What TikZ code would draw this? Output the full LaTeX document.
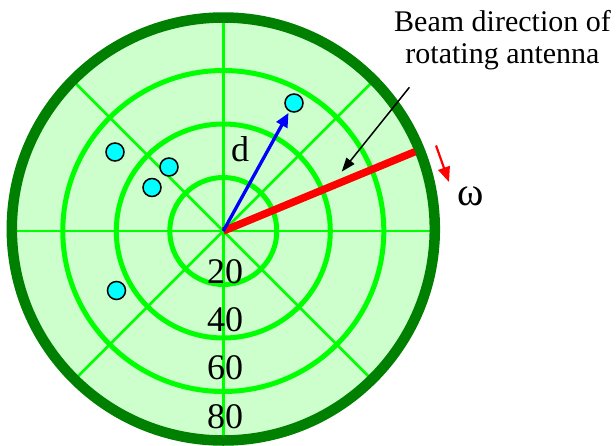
\documentclass[tikz,border=0pt]{standalone}
\usepackage{fontspec}
\setmainfont{Liberation Serif}
\usetikzlibrary{arrows.meta}
\definecolor{lightg}{HTML}{CCFFCC}
\definecolor{darkg}{HTML}{008000}
\definecolor{brightg}{HTML}{00FF00}
\definecolor{dotc}{HTML}{00FFFF}
\begin{document}
\begin{tikzpicture}[x=1pt,y=-1pt,
  ringline/.style={brightg, line width=5pt},
  spokeline/.style={brightg, line width=2.7pt},
  targetdot/.style={circle, draw=black, line width=1.5pt, fill=dotc, minimum size=18pt, inner sep=0pt},
  rangelbl/.style={font=\fontsize{36}{40}\selectfont, inner sep=0pt, anchor=base},
  calloutarrow/.style={black, line width=1.5pt, -{Triangle[length=14pt,width=10pt]}}]
\useasboundingbox (0,0) rectangle (616,445);
\coordinate (O) at (223.3,231);
\coordinate (C) at (223.3,229);
% scope background
\fill[lightg] (C) circle (211);
\begin{scope}
  \clip (C) circle (211);
  \foreach \a in {0,45,...,315} \draw[spokeline] (O) -- ++(\a:220);
\end{scope}
\foreach \r in {53.5,107,160.5} \draw[ringline] (O) circle (\r);
\draw[darkg, line width=10.5pt] (C) circle (211.5);
% beam
\coordinate (B) at (415,151.7);
\draw[red, line width=7.5pt] (O) -- (B);
% targets
\node[targetdot] (t1) at (294,103) {};
\node[targetdot] (t2) at (115,152) {};
\node[targetdot] (t3) at (169,167) {};
\node[targetdot] (t4) at (152,187.5) {};
\node[targetdot] (t5) at (116.5,290.5) {};
\draw[blue, line width=3.3pt, -{Triangle[length=14pt,width=12pt]}, shorten >=1.5pt] (O) -- (t1);
% labels
\node[rangelbl] (r20) at (225,283) {20};
\node[rangelbl] (r40) at (225,331.5) {40};
\node[rangelbl] (r60) at (225,379.5) {60};
\node[rangelbl] (r80) at (225,428) {80};
\node[font=\fontsize{36}{40}\selectfont, inner sep=0pt, anchor=base] (d) at (240,161.7) {d};
\node[font=\fontsize{40}{44}\selectfont, inner sep=0pt, anchor=base] (w) at (471,205) {ω};
\node[font=\fontsize{30}{32}\selectfont, inner sep=0pt, align=center] (bt) at (502.5,40.5) {Beam direction of\\rotating antenna};
% callout arrow
\coordinate (cs) at (409.4,87.3);
\coordinate (ce) at (341.7,171.7);
\draw[calloutarrow] (cs) -- (ce);
% rotation arrow
\coordinate (ws) at (436,145.5);
\coordinate (we) at (449,182);
\draw[red, line width=2.2pt, -{Triangle[length=15pt,width=12pt]}] (ws) -- (we);
\end{tikzpicture}
\end{document}
